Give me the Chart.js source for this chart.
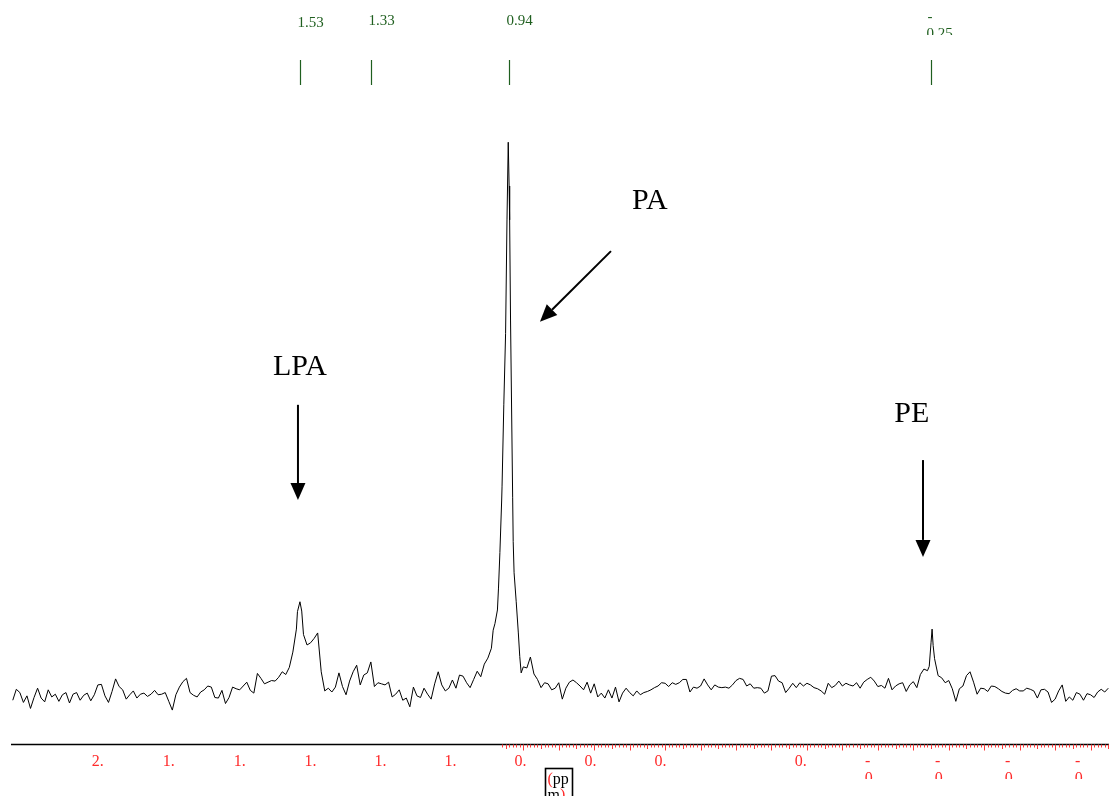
<!DOCTYPE html>
<html>
<head>
<meta charset="utf-8">
<title>NMR spectrum - LPA / PA / PE</title>
<script src="https://cdn.jsdelivr.net/npm/chart.js@4.4.1/dist/chart.umd.min.js"></script>
<style>
  html, body { margin: 0; padding: 0; background: #fff; }
  canvas { display: block; }
</style>
</head>
<body>
<canvas id="spectrum" width="1109" height="796"></canvas>
<script>
const shiftStart = 2.34;
const shiftStep = 0.01;
const intensity = [
    -2.0, 0.0, -0.6, -2.4, -1.2, -3.5, -1.5, 0.2, -1.6, -2.3,
    -0.1, -1.4, -0.9, -2.2, -1.0, -0.6, -2.5, -0.9, -0.6, -2.0,
    -1.1, -0.7, -2.1, -1.0, 0.8, 0.9, -1.2, -2.4, -0.4, 1.9,
    0.5, -0.1, -1.8, -1.0, -0.3, -1.6, -0.9, -0.7, -1.3, -0.9,
    -0.2, -1.0, -0.9, -0.6, -2.2, -3.8, -1.0, 0.4, 1.4, 2.0,
    -0.6, -1.1, -1.4, -0.5, -0.1, 0.6, 0.4, -1.5, -1.6, -0.2,
    -2.6, -1.5, 0.4, 0.1, -0.1, 0.6, 1.3, -0.2, -0.7, 2.9,
    2.0, 1.0, 1.3, 1.6, 1.5, 2.2, 3.2, 2.7, 4.0, 6.8,
    11.0, 16.0, 10.0, 8.1, 8.5, 9.3, 10.3, 3.2, -0.3, 0.2,
    -0.5, 0.4, 3.0, 0.5, -1.0, 1.5, 3.2, 4.4, 0.8, 2.6,
    3.0, 5.0, 0.5, 1.2, 1.0, 0.8, 1.3, -1.4, -0.9, -0.1,
    -2.0, -1.6, -3.2, 0.4, -1.2, -1.5, 0.2, -0.9, -1.8, 1.0,
    3.2, 0.8, -0.3, 0.2, 1.7, 0.2, 2.6, 2.4, 1.2, 0.3,
    1.8, 3.3, 2.3, 4.6, 5.7, 7.5, 12.0, 18.5, 37.0, 65.0,
    92.0, 35.0, 16.0, 6.0, 4.1, 3.9, 5.9, 2.8, 1.8, 0.3,
    1.2, 1.0, -0.1, 0.2, 1.2, -1.8, 0.2, 1.3, 1.7, 1.2,
    0.6, -0.1, 1.3, -0.7, 1.0, -1.4, -0.7, -1.6, -0.1, -1.6,
    0.4, -2.3, -0.7, 0.2, -0.6, -1.2, -0.3, -1.0, -0.6, -0.4,
    -0.1, 0.3, 0.6, 1.2, 1.1, 0.5, 1.2, 0.9, 1.2, 1.8,
    1.8, -0.5, 0.4, 0.2, 0.6, 1.9, 0.8, -0.1, 0.8, 0.4,
    0.3, 0.4, 0.2, 0.8, 1.6, 2.0, 1.8, 0.6, 1.0, 0.2,
    0.3, 0.2, -0.7, -0.3, 2.4, 2.5, 1.5, 1.2, -0.6, 0.2,
    1.1, 0.3, 1.2, 0.6, 1.1, 0.8, 0.3, 0.1, -0.3, -0.9,
    1.1, 0.3, 0.7, 1.5, 0.6, 1.1, 0.8, 0.6, 1.2, 0.2,
    1.3, 1.8, 2.2, 1.5, 0.5, 0.7, 0.2, 2.0, -0.1, 0.6,
    1.0, 1.2, -0.4, 0.8, 1.4, 0.3, 2.7, 3.7, 3.4, 8.5,
    5.6, 2.5, 2.1, 1.2, 1.6, 0.1, -2.2, 0.1, 0.6, 2.5,
    3.2, 1.3, -0.9, 0.2, 0.1, -0.4, 0.6, 0.5, 0.1, -0.4,
    -0.7, -0.8, -0.2, 0.1, -0.3, -0.3, 0.2, 0.0, -0.3, -1.6,
    -0.1, 0.0, -0.5, -2.4, -1.8, -0.3, 0.8, -2.2, -1.4, -2.0,
    -0.6, -0.9, -2.0, -0.8, -1.0, -1.5, -0.5, 0.0, -0.5, 0.2
];

// Extra points on the narrow peaks
const lpaShift = [1.537, 1.525];
const lpaIntensity = [14.2, 14.3];
const paShift = [0.985, 0.973, 0.966, 0.961, 0.955, 0.946, 0.9425, 0.9385, 0.936, 0.9285, 0.926, 0.914, 0.906];
const paIntensity = [10.8, 14.5, 25.0, 34.6, 52.0, 85.8, 100.0, 85.8, 67.5, 27.0, 21.3, 10.3, 3.0];
const peShift = [-0.245, -0.253, -0.256];
const peIntensity = [4.2, 11.0, 8.0];

// Peak picking marks at the top
const peakShifts = [1.53, 1.33, 0.94, -0.25];
const peakLabels = ['1.53', '1.33', '0.94', '-0.25'];

// Axis labels (the original output only shows the leading digit)
const tickValues = [2.1, 1.9, 1.7, 1.5, 1.3, 1.1, 0.9, 0.7, 0.5, 0.1, -0.1, -0.3, -0.5, -0.7];
const tickLabels = ['2.', '1.', '1.', '1.', '1.', '1.', '0.', '0.', '0.', '0.', '-\n0', '-\n0', '-\n0', '-\n0'];

const shiftMax = 2.345;
const shiftMin = -0.752;
const SERIF = '"Liberation Serif", "Times New Roman", serif';

function buildPoints() {
    const pts = intensity.map((v, i) => ({ x: +(shiftStart - i * shiftStep).toFixed(3), y: v }));
    [[lpaShift, lpaIntensity], [paShift, paIntensity], [peShift, peIntensity]].forEach(([s, v]) => {
        s.forEach((p, i) => pts.push({ x: p, y: v[i] }));
    });
    return pts.sort((a, b) => b.x - a.x);
}

// Draw a filled-head arrow from (x0,y0) to (x1,y1)
function drawArrow(ctx, x0, y0, x1, y1) {
    const ang = Math.atan2(y1 - y0, x1 - x0);
    const head = 17, half = 7.5;
    const bx = x1 - head * Math.cos(ang);
    const by = y1 - head * Math.sin(ang);
    ctx.lineWidth = 2;
    ctx.beginPath();
    ctx.moveTo(x0, y0);
    ctx.lineTo(bx, by);
    ctx.stroke();
    ctx.beginPath();
    ctx.moveTo(x1, y1);
    ctx.lineTo(bx + half * Math.sin(ang), by - half * Math.cos(ang));
    ctx.lineTo(bx - half * Math.sin(ang), by + half * Math.cos(ang));
    ctx.closePath();
    ctx.fill();
}

// Text that is cut off below clipBottom (like the original text boxes)
function clippedText(ctx, text, px, py, clipBottom) {
    ctx.save();
    ctx.beginPath();
    ctx.rect(0, 0, ctx.canvas.width, clipBottom);
    ctx.clip();
    ctx.fillText(text, px, py);
    ctx.restore();
}

const overlay = {
    id: 'overlay',
    afterDraw(chart) {
        const { ctx, chartArea } = chart;
        const xs = chart.scales.x;
        const ys = chart.scales.y;
        const axisY = chartArea.bottom + 0.5;

        ctx.save();

        // ppm axis line
        ctx.strokeStyle = '#000';
        ctx.lineWidth = 1.3;
        ctx.beginPath();
        ctx.moveTo(chartArea.left, axisY);
        ctx.lineTo(chartArea.right, axisY);
        ctx.stroke();

        // red minor / major ticks (only drawn from 0.96 ppm upfield)
        ctx.strokeStyle = '#ff3a3a';
        ctx.lineWidth = 1;
        for (let k = 96; k >= -75; k--) {
            const px = Math.round(xs.getPixelForValue(k / 100)) + 0.5;
            const len = k % 10 === 0 ? 6 : (k % 5 === 0 ? 4.5 : 3);
            ctx.beginPath();
            ctx.moveTo(px, axisY);
            ctx.lineTo(px, axisY + len);
            ctx.stroke();
        }

        // tick labels - upfield text boxes drift a little left of their ticks
        ctx.fillStyle = '#ff2a2a';
        ctx.font = '16px ' + SERIF;
        ctx.textAlign = 'center';
        ctx.textBaseline = 'alphabetic';
        tickValues.forEach((v, i) => {
            const lines = tickLabels[i].split('\n');
            let px = xs.getPixelForValue(v) - Math.max(0, 1.5 - v) * 4.5;
            if (lines[1]) px -= 3;
            ctx.fillText(lines[0], px, 766);
            if (lines[1]) clippedText(ctx, lines[1], px + 1, 783, 779);
        });

        // (ppm) unit box
        const bx = Math.round(xs.getPixelForValue(0.8)) - 13.5;
        ctx.strokeStyle = '#000';
        ctx.lineWidth = 1.6;
        ctx.strokeRect(bx, 768.5, 27, 40);
        ctx.textAlign = 'left';
        ctx.fillStyle = '#ff2a2a';
        ctx.fillText('(', bx + 2, 784);
        const pw = ctx.measureText('(').width;
        ctx.fillStyle = '#000';
        ctx.fillText('pp', bx + 2 + pw, 784);
        ctx.fillText('m', bx + 2, 800);
        ctx.fillStyle = '#ff2a2a';
        ctx.fillText(')', bx + 2 + ctx.measureText('m').width, 800);

        // peak picking marks
        ctx.strokeStyle = '#1f5f1f';
        ctx.fillStyle = '#1f5f1f';
        ctx.lineWidth = 1.2;
        ctx.font = '15px ' + SERIF;
        peakShifts.forEach((s, i) => {
            const px = Math.round(xs.getPixelForValue(s)) + 0.5;
            ctx.beginPath();
            ctx.moveTo(px, 60);
            ctx.lineTo(px, 85);
            ctx.stroke();
            const label = peakLabels[i];
            if (label.startsWith('-')) {
                ctx.fillText('-', px - 4, 21);
                clippedText(ctx, label.slice(1), px - 5, 38, 35);
            } else {
                ctx.fillText(label, px - 3, s === 1.53 ? 27 : 25);
            }
        });

        // compound annotations, placed in data units
        ctx.fillStyle = '#000';
        ctx.strokeStyle = '#000';
        ctx.font = '30px ' + SERIF;
        ctx.textAlign = 'center';
        const notes = [
            { text: 'LPA', x: 1.53, y: 57.4, from: [1.5356, 52.0], to: [1.5356, 34.6] },
            { text: 'PA', x: 0.543, y: 87.8, from: [0.6527, 80.1], to: [0.853, 67.2] },
            { text: 'PE', x: -0.196, y: 48.9, from: [-0.2274, 41.9], to: [-0.2274, 24.2] }
        ];
        notes.forEach(n => {
            ctx.fillText(n.text, xs.getPixelForValue(n.x), ys.getPixelForValue(n.y));
            drawArrow(ctx,
                xs.getPixelForValue(n.from[0]), ys.getPixelForValue(n.from[1]),
                xs.getPixelForValue(n.to[0]), ys.getPixelForValue(n.to[1]));
        });

        ctx.restore();
    }
};

const ctx = document.getElementById('spectrum').getContext('2d');
new Chart(ctx, {
    type: 'line',
    data: {
        datasets: [{
            data: buildPoints(),
            borderColor: '#000',
            borderWidth: 1,
            pointRadius: 0,
            tension: 0,
            fill: false
        }]
    },
    options: {
        responsive: false,
        animation: false,
        devicePixelRatio: 1,
        parsing: false,
        layout: { padding: { left: 11, right: 0, top: 0, bottom: 52 } },
        plugins: {
            legend: { display: false },
            tooltip: { enabled: false }
        },
        scales: {
            x: { type: 'linear', reverse: true, min: shiftMin, max: shiftMax, display: false },
            y: { type: 'linear', min: -10, max: 126, display: false }
        }
    },
    plugins: [overlay]
});
</script>
</body>
</html>
